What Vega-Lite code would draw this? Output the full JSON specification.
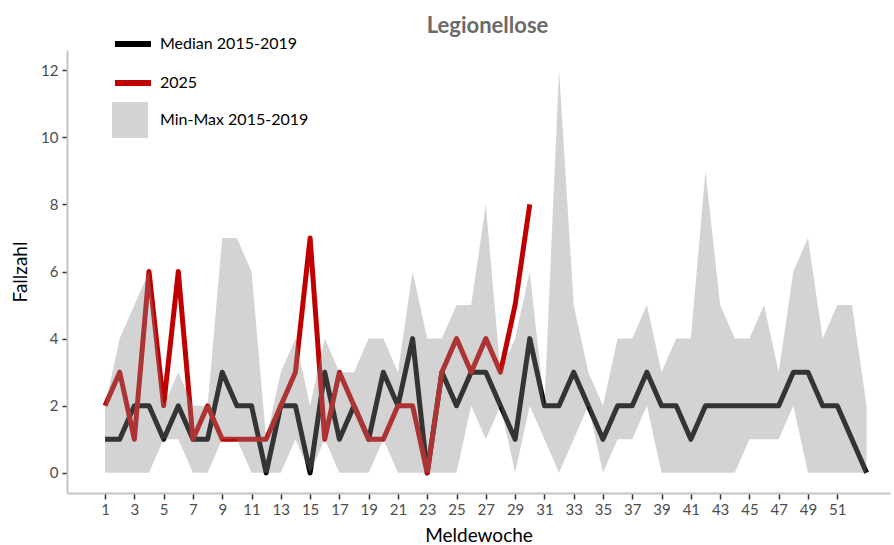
{
  "$schema": "https://vega.github.io/schema/vega-lite/v6.json",
  "width": 823,
  "height": 443,
  "autosize": {"type": "none"},
  "padding": {"left": 67, "top": 50, "right": 4, "bottom": 52},
  "title": {"text": "Legionellose", "anchor": "middle", "fontSize": 22, "font": "Lato", "fontWeight": "bold", "color": "#6b6b6b", "offset": -15, "dx": 9},
  "config": {
    "view": {"stroke": null},
    "font": "Lato",
    "axis": {"grid": false, "domainColor": "#c4c4c4", "domainWidth": 2, "tickColor": "#333333", "tickWidth": 1.5, "tickSize": 5, "labelColor": "#4d4d4d", "labelFontSize": 15, "labelFont": "Lato", "titleFont": "Lato", "titleFontWeight": "normal", "titleColor": "#000000", "titleFontSize": 19, "labelOverlap": false}
  },
  "datasets": {
    "lines": [
      {"week":1,"series":"Median 2015-2019","value":1},{"week":2,"series":"Median 2015-2019","value":1},{"week":3,"series":"Median 2015-2019","value":2},{"week":4,"series":"Median 2015-2019","value":2},{"week":5,"series":"Median 2015-2019","value":1},{"week":6,"series":"Median 2015-2019","value":2},{"week":7,"series":"Median 2015-2019","value":1},{"week":8,"series":"Median 2015-2019","value":1},{"week":9,"series":"Median 2015-2019","value":3},{"week":10,"series":"Median 2015-2019","value":2},{"week":11,"series":"Median 2015-2019","value":2},{"week":12,"series":"Median 2015-2019","value":0},{"week":13,"series":"Median 2015-2019","value":2},{"week":14,"series":"Median 2015-2019","value":2},{"week":15,"series":"Median 2015-2019","value":0},{"week":16,"series":"Median 2015-2019","value":3},{"week":17,"series":"Median 2015-2019","value":1},{"week":18,"series":"Median 2015-2019","value":2},{"week":19,"series":"Median 2015-2019","value":1},{"week":20,"series":"Median 2015-2019","value":3},{"week":21,"series":"Median 2015-2019","value":2},{"week":22,"series":"Median 2015-2019","value":4},{"week":23,"series":"Median 2015-2019","value":0},{"week":24,"series":"Median 2015-2019","value":3},{"week":25,"series":"Median 2015-2019","value":2},{"week":26,"series":"Median 2015-2019","value":3},{"week":27,"series":"Median 2015-2019","value":3},{"week":28,"series":"Median 2015-2019","value":2},{"week":29,"series":"Median 2015-2019","value":1},{"week":30,"series":"Median 2015-2019","value":4},{"week":31,"series":"Median 2015-2019","value":2},{"week":32,"series":"Median 2015-2019","value":2},{"week":33,"series":"Median 2015-2019","value":3},{"week":34,"series":"Median 2015-2019","value":2},{"week":35,"series":"Median 2015-2019","value":1},{"week":36,"series":"Median 2015-2019","value":2},{"week":37,"series":"Median 2015-2019","value":2},{"week":38,"series":"Median 2015-2019","value":3},{"week":39,"series":"Median 2015-2019","value":2},{"week":40,"series":"Median 2015-2019","value":2},{"week":41,"series":"Median 2015-2019","value":1},{"week":42,"series":"Median 2015-2019","value":2},{"week":43,"series":"Median 2015-2019","value":2},{"week":44,"series":"Median 2015-2019","value":2},{"week":45,"series":"Median 2015-2019","value":2},{"week":46,"series":"Median 2015-2019","value":2},{"week":47,"series":"Median 2015-2019","value":2},{"week":48,"series":"Median 2015-2019","value":3},{"week":49,"series":"Median 2015-2019","value":3},{"week":50,"series":"Median 2015-2019","value":2},{"week":51,"series":"Median 2015-2019","value":2},{"week":52,"series":"Median 2015-2019","value":1},{"week":53,"series":"Median 2015-2019","value":0},
      {"week":1,"series":"2025","value":2},{"week":2,"series":"2025","value":3},{"week":3,"series":"2025","value":1},{"week":4,"series":"2025","value":6},{"week":5,"series":"2025","value":2},{"week":6,"series":"2025","value":6},{"week":7,"series":"2025","value":1},{"week":8,"series":"2025","value":2},{"week":9,"series":"2025","value":1},{"week":10,"series":"2025","value":1},{"week":11,"series":"2025","value":1},{"week":12,"series":"2025","value":1},{"week":13,"series":"2025","value":2},{"week":14,"series":"2025","value":3},{"week":15,"series":"2025","value":7},{"week":16,"series":"2025","value":1},{"week":17,"series":"2025","value":3},{"week":18,"series":"2025","value":2},{"week":19,"series":"2025","value":1},{"week":20,"series":"2025","value":1},{"week":21,"series":"2025","value":2},{"week":22,"series":"2025","value":2},{"week":23,"series":"2025","value":0},{"week":24,"series":"2025","value":3},{"week":25,"series":"2025","value":4},{"week":26,"series":"2025","value":3},{"week":27,"series":"2025","value":4},{"week":28,"series":"2025","value":3},{"week":29,"series":"2025","value":5},{"week":30,"series":"2025","value":8}
    ],
    "band": [
      {"week":1,"min":0,"max":2},{"week":2,"min":0,"max":4},{"week":3,"min":0,"max":5},{"week":4,"min":0,"max":6},{"week":5,"min":1,"max":2},{"week":6,"min":1,"max":3},{"week":7,"min":0,"max":2},{"week":8,"min":0,"max":2},{"week":9,"min":1,"max":7},{"week":10,"min":1,"max":7},{"week":11,"min":0,"max":6},{"week":12,"min":0,"max":1},{"week":13,"min":0,"max":3},{"week":14,"min":1,"max":4},{"week":15,"min":0,"max":2},{"week":16,"min":1,"max":4},{"week":17,"min":0,"max":3},{"week":18,"min":0,"max":3},{"week":19,"min":0,"max":4},{"week":20,"min":1,"max":4},{"week":21,"min":0,"max":3},{"week":22,"min":0,"max":6},{"week":23,"min":0,"max":4},{"week":24,"min":0,"max":4},{"week":25,"min":0,"max":5},{"week":26,"min":2,"max":5},{"week":27,"min":1,"max":8},{"week":28,"min":2,"max":3},{"week":29,"min":0,"max":4},{"week":30,"min":2,"max":6},{"week":31,"min":1,"max":2},{"week":32,"min":0,"max":12},{"week":33,"min":1,"max":5},{"week":34,"min":2,"max":3},{"week":35,"min":0,"max":2},{"week":36,"min":1,"max":4},{"week":37,"min":1,"max":4},{"week":38,"min":2,"max":5},{"week":39,"min":0,"max":3},{"week":40,"min":0,"max":4},{"week":41,"min":0,"max":4},{"week":42,"min":0,"max":9},{"week":43,"min":0,"max":5},{"week":44,"min":0,"max":4},{"week":45,"min":1,"max":4},{"week":46,"min":1,"max":5},{"week":47,"min":1,"max":3},{"week":48,"min":2,"max":6},{"week":49,"min":0,"max":7},{"week":50,"min":0,"max":4},{"week":51,"min":0,"max":5},{"week":52,"min":0,"max":5},{"week":53,"min":0,"max":2}
    ]
  },
  "layer": [
    {
      "data": {"name": "lines"},
      "mark": {"type": "line", "strokeWidth": 5, "strokeJoin": "round"},
      "encoding": {
        "x": {"field": "week", "type": "quantitative", "scale": {"domain": [-1.6, 54.6], "nice": false, "zero": false},
              "axis": {"title": "Meldewoche", "values": [1,3,5,7,9,11,13,15,17,19,21,23,25,27,29,31,33,35,37,39,41,43,45,47,49,51], "tickCount": 60, "tickSize": 6, "labelPadding": 3, "titlePadding": 9, "labelOverlap": false}},
        "y": {"field": "value", "type": "quantitative", "scale": {"domain": [-0.6, 12.6], "nice": false, "zero": false},
              "axis": {"title": "Fallzahl", "values": [0,2,4,6,8,10,12], "labelPadding": 4, "titlePadding": 10}},
        "color": {"field": "series", "type": "nominal",
                  "scale": {"domain": ["Median 2015-2019", "2025"], "range": ["#000000", "#c00000"]},
                  "legend": {"orient": "none", "legendX": 45, "legendY": -27, "title": null, "symbolType": "stroke", "symbolSize": 1296, "symbolStrokeWidth": 6, "labelFontSize": 16, "labelColor": "#000000", "labelOffset": 6, "rowPadding": 6, "padding": 0}}
      }
    },
    {
      "data": {"name": "band"},
      "mark": {"type": "area"},
      "encoding": {
        "x": {"field": "week", "type": "quantitative"},
        "y": {"field": "min", "type": "quantitative"},
        "y2": {"field": "max"},
        "fill": {"datum": "Min-Max 2015-2019", "type": "nominal",
                 "scale": {"range": ["rgba(137,137,137,0.375)"]},
                 "legend": {"orient": "none", "legendX": 45, "legendY": 52, "title": null, "symbolType": "square", "symbolSize": 1296, "symbolStrokeWidth": 0, "labelFontSize": 16, "labelColor": "#000000", "labelOffset": 12, "padding": 0}}
      }
    }
  ]
}
